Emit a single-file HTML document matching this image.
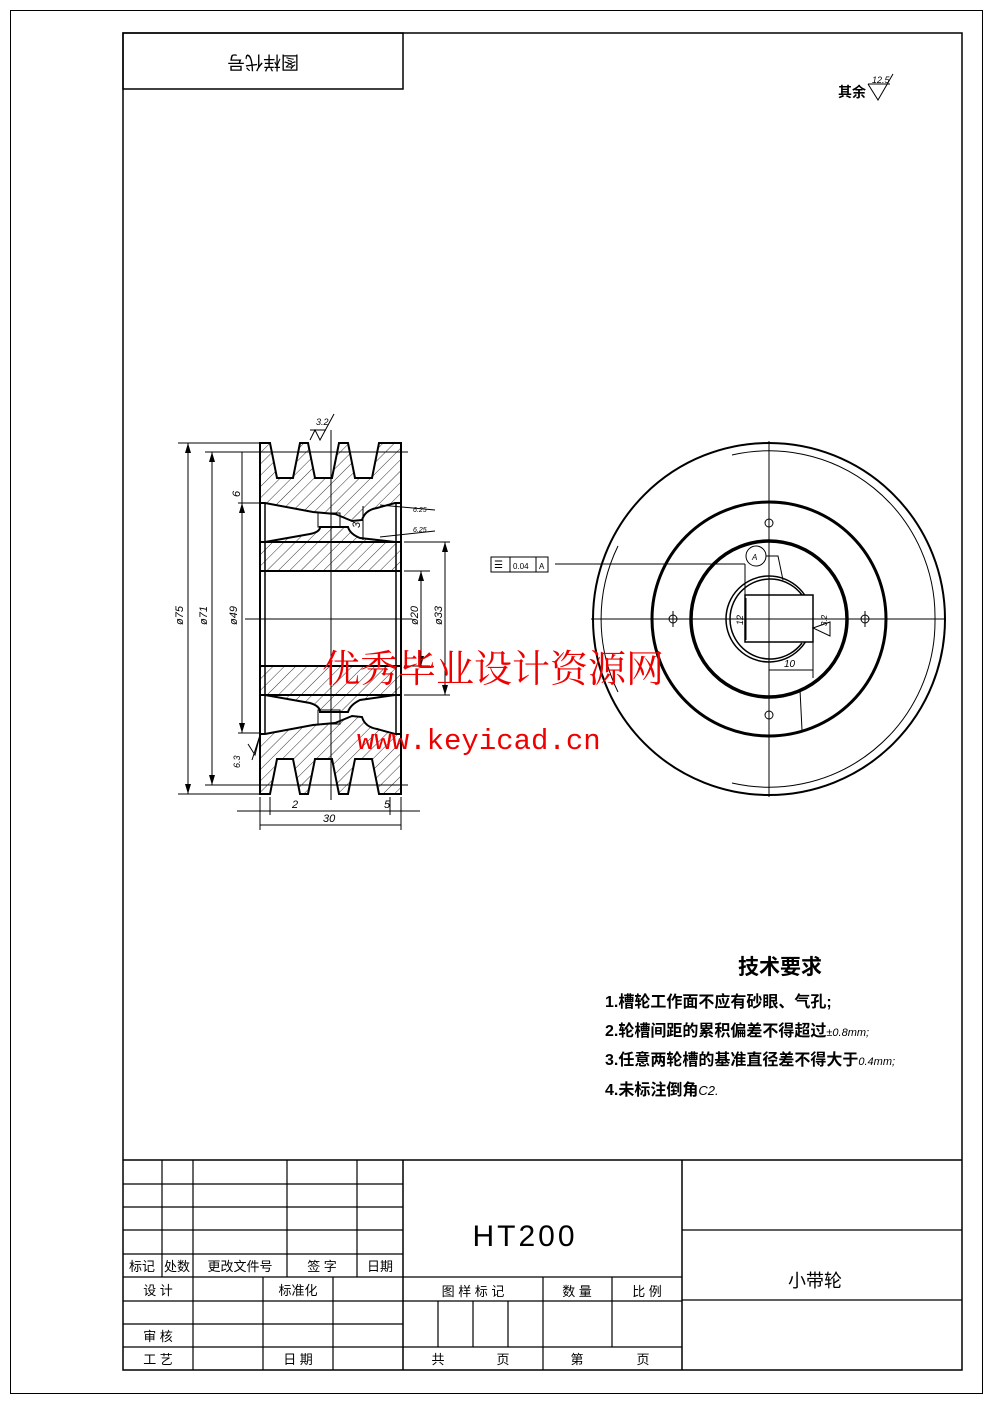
<!DOCTYPE html>
<html><head><meta charset="utf-8"><style>
html,body{margin:0;padding:0;background:#fff}
svg{display:block}
text{font-family:"Liberation Sans","Noto Sans CJK SC",sans-serif;fill:#000}
</style></head><body>
<svg width="992" height="1403" viewBox="0 0 992 1403" xmlns="http://www.w3.org/2000/svg">
<defs>
<pattern id="h" patternUnits="userSpaceOnUse" width="8" height="8" patternTransform="rotate(45)">
<line x1="0" y1="0" x2="0" y2="8" stroke="#000" stroke-width="0.8"/></pattern>
</defs>
<rect x="10.5" y="10.5" width="972" height="1383" fill="none" stroke="#000"/>
<rect x="123" y="33" width="839" height="1337" fill="none" stroke="#000" stroke-width="1.5"/>
<rect x="123" y="33" width="280" height="56" fill="none" stroke="#000" stroke-width="1.5"/>
<text x="263" y="70" font-size="18" text-anchor="middle" transform="rotate(180 263 63)">图样代号</text>
<text x="838" y="97" font-size="14" font-weight="bold">其余</text>
<path d="M868 84 L878 100 L893 74" fill="none" stroke="#000"/><line x1="868" y1="84" x2="890" y2="84" stroke="#000"/>
<text x="872" y="83" font-size="9" font-style="italic">12.5</text>

<!-- left view -->
<g stroke="#000" fill="none">
<path d="M260 443 L270 443 L277 478 L293 478 L300 443 L308 443 L315 478 L332 478 L339 443 L348 443 L355 478 L372 478 L379 443 L390 443 L401 443 L401 503 L395 503 L377 508 Q365 510 362 520 L352 521 Q340 516 335 514 L313 512 L265 503 L260 503 Z" fill="url(#h)" stroke-width="2"/>
<path d="M260 542 L401 542 L401 571 L260 571 Z" fill="url(#h)" stroke-width="2"/>
<path d="M265 542 L310 534 Q320 532 320 527 L348 527 Q350 534 360 538 L395 542" fill="url(#h)" stroke-width="2"/>
<path d="M260 666 L401 666 L401 695 L260 695 Z" fill="url(#h)" stroke-width="2"/>
<path d="M265 695 L310 703 Q320 706 320 712 L348 712 Q350 705 360 700 L395 695" fill="url(#h)" stroke-width="2"/>
<path d="M260 794 L270 794 L277 759 L293 759 L300 794 L308 794 L315 759 L332 759 L339 794 L348 794 L355 759 L372 759 L379 794 L390 794 L401 794 L401 734 L395 734 L377 729 Q365 727 362 717 L352 716 Q340 721 335 723 L313 725 L265 734 L260 734 Z" fill="url(#h)" stroke-width="2"/>
<line x1="260" y1="443" x2="260" y2="794" stroke-width="2"/>
<line x1="401" y1="443" x2="401" y2="794" stroke-width="2"/>
<line x1="265" y1="503" x2="265" y2="734" stroke-width="1.5"/>
<line x1="396" y1="503" x2="396" y2="734" stroke-width="1.5"/>
<rect x="318" y="513" width="22" height="14"/><rect x="318" y="710" width="22" height="14"/>
<line x1="245" y1="619" x2="412" y2="619"/>
<line x1="331" y1="430" x2="331" y2="800"/>
<line x1="178" y1="443" x2="260" y2="443"/><line x1="178" y1="794" x2="260" y2="794"/>
<line x1="205" y1="452" x2="408" y2="452"/><line x1="205" y1="785" x2="408" y2="785"/>
<line x1="188" y1="443" x2="188" y2="794"/><line x1="212" y1="452" x2="212" y2="785"/>
<line x1="242" y1="452" x2="242" y2="733"/><line x1="238" y1="503" x2="260" y2="503"/><line x1="238" y1="733" x2="260" y2="733"/>
<line x1="404" y1="571" x2="430" y2="571"/><line x1="404" y1="666" x2="430" y2="666"/>
<line x1="404" y1="542" x2="450" y2="542"/><line x1="404" y1="695" x2="450" y2="695"/>
<line x1="421" y1="571" x2="421" y2="666"/><line x1="445" y1="542" x2="445" y2="695"/>
<line x1="363" y1="506" x2="363" y2="540"/>
<line x1="380" y1="505" x2="435" y2="510"/><line x1="380" y1="537" x2="435" y2="531"/>
<line x1="260" y1="797" x2="260" y2="830"/><line x1="401" y1="797" x2="401" y2="830"/><line x1="270" y1="797" x2="270" y2="815"/><line x1="390" y1="797" x2="390" y2="815"/>
<line x1="237" y1="811" x2="420" y2="811"/><line x1="260" y1="825" x2="401" y2="825"/>
<path d="M310 440 L315 430 L320 440 L334 414" /><line x1="310" y1="430" x2="326" y2="430"/>
<path d="M248 744 L255 755 L260 735 L252 760"/>
</g>
<g fill="#000">
<path d="M188 443 l-3 10 h6z"/><path d="M188 794 l-3 -10 h6z"/>
<path d="M212 452 l-3 10 h6z"/><path d="M212 785 l-3 -10 h6z"/>
<path d="M242 503 l-3 10 h6z"/><path d="M242 733 l-3 -10 h6z"/>
<path d="M421 571 l-3 10 h6z"/><path d="M421 666 l-3 -10 h6z"/>
<path d="M445 542 l-3 10 h6z"/><path d="M445 695 l-3 -10 h6z"/>
</g>
<g font-size="11" font-style="italic">
<text transform="translate(183 625) rotate(-90)">ø75</text>
<text transform="translate(207 625) rotate(-90)">ø71</text>
<text transform="translate(237 625) rotate(-90)">ø49</text>
<text transform="translate(240 497) rotate(-90)">6</text>
<text transform="translate(418 625) rotate(-90)">ø20</text>
<text transform="translate(442 625) rotate(-90)">ø33</text>
<text transform="translate(360 528) rotate(-90)">3</text>
<text x="292" y="808">2</text><text x="384" y="808">5</text><text x="323" y="822">30</text>
<text x="316" y="425" font-size="9">3.2</text>
<text transform="translate(240 768) rotate(-90)" font-size="9">6.3</text>
<text x="413" y="512" font-size="7">6.25</text><text x="413" y="532" font-size="7">6.25</text>
</g>

<!-- right view -->
<g stroke="#000" fill="none">
<circle cx="769" cy="619" r="176" stroke-width="2"/>
<path d="M732 455 A166 166 0 0 1 935 619 A166 166 0 0 1 732 783"/>
<path d="M618 546 A166 166 0 0 0 618 692"/>
<circle cx="769" cy="619" r="117" stroke-width="3"/>
<circle cx="769" cy="619" r="78" stroke-width="3.5"/>
<circle cx="769" cy="619" r="43" stroke-width="1.5"/>
<path d="M802 595 A40 40 0 1 0 802 643" stroke-width="1.5"/>
<rect x="745" y="595" width="68" height="47" stroke-width="1.5" fill="#fff"/>
<line x1="591" y1="619" x2="946" y2="619"/>
<line x1="769" y1="441" x2="769" y2="797"/>
<circle cx="769" cy="523" r="4"/><circle cx="769" cy="715" r="4"/><circle cx="673" cy="619" r="4"/><circle cx="865" cy="619" r="4"/>
<line x1="673" y1="611" x2="673" y2="627"/><line x1="865" y1="611" x2="865" y2="627"/>
<line x1="555" y1="564" x2="745" y2="564"/><line x1="745" y1="564" x2="745" y2="595"/>
<rect x="491" y="557" width="57" height="15"/><line x1="510" y1="557" x2="510" y2="572"/><line x1="536" y1="557" x2="536" y2="572"/>
<circle cx="756" cy="556" r="10"/><path d="M766 556 L778 556 L783 580"/>
<line x1="746" y1="598" x2="746" y2="640"/>
<line x1="813" y1="642" x2="813" y2="678"/><line x1="769" y1="670" x2="813" y2="670"/>
<line x1="800" y1="690" x2="802" y2="730"/>
<path d="M813 628 L830 622 L830 636 Z"/>
</g>
<text x="752" y="560" font-size="8" font-style="italic">A</text>
<text x="513" y="569" font-size="8">0.04</text><text x="539" y="569" font-size="8">A</text>
<text x="494" y="568" font-size="10">☰</text>
<text x="784" y="667" font-size="10" font-style="italic">10</text>
<text transform="translate(743 625) rotate(-90)" font-size="9" font-style="italic">12</text>
<text transform="translate(827 626) rotate(-90)" font-size="8" font-style="italic">3.2</text>

<!-- watermark -->
<text x="322" y="682" font-size="38" style="fill:#e00;font-family:'Liberation Serif','Noto Serif CJK SC',serif">优秀毕业设计资源网</text>
<text x="357" y="749" font-size="29" style="fill:#e00;font-family:'Liberation Mono',monospace">www.keyicad.cn</text>

<!-- tech req -->
<text x="738" y="974" font-size="21" font-weight="bold">技术要求</text>
<g font-size="16" font-weight="bold">
<text x="605" y="1007">1.槽轮工作面不应有砂眼、气孔;</text>
<text x="605" y="1036">2.轮槽间距的累积偏差不得超过<tspan font-size="11" font-weight="normal" font-style="italic">±0.8mm;</tspan></text>
<text x="605" y="1065">3.任意两轮槽的基准直径差不得大于<tspan font-size="11" font-weight="normal" font-style="italic">0.4mm;</tspan></text>
<text x="605" y="1095">4.未标注倒角<tspan font-size="13" font-weight="normal" font-style="italic">C2.</tspan></text>
</g>

<!-- title block -->
<g stroke="#000" stroke-width="1.2" fill="none">
<line x1="123" y1="1160" x2="962" y2="1160" stroke-width="1.5"/>
<line x1="123" y1="1184" x2="403" y2="1184"/><line x1="123" y1="1207" x2="403" y2="1207"/><line x1="123" y1="1230" x2="403" y2="1230"/><line x1="123" y1="1254" x2="403" y2="1254"/>
<line x1="123" y1="1277" x2="682" y2="1277"/><line x1="123" y1="1301" x2="403" y2="1301"/><line x1="403" y1="1301" x2="682" y2="1301"/><line x1="123" y1="1324" x2="403" y2="1324"/><line x1="123" y1="1347" x2="682" y2="1347"/>
<line x1="162" y1="1160" x2="162" y2="1277"/><line x1="193" y1="1160" x2="193" y2="1370"/><line x1="287" y1="1160" x2="287" y2="1277"/><line x1="357" y1="1160" x2="357" y2="1277"/>
<line x1="403" y1="1160" x2="403" y2="1370" stroke-width="1.5"/>
<line x1="263" y1="1277" x2="263" y2="1370"/><line x1="333" y1="1277" x2="333" y2="1370"/>
<line x1="543" y1="1277" x2="543" y2="1370"/><line x1="612" y1="1277" x2="612" y2="1347"/>
<line x1="438" y1="1301" x2="438" y2="1347"/><line x1="473" y1="1301" x2="473" y2="1347"/><line x1="508" y1="1301" x2="508" y2="1347"/>
<line x1="682" y1="1160" x2="682" y2="1370" stroke-width="1.5"/>
<line x1="682" y1="1230" x2="962" y2="1230"/><line x1="682" y1="1300" x2="962" y2="1300"/>
</g>
<g font-size="13" text-anchor="middle">
<text x="142" y="1271">标记</text><text x="177" y="1271">处数</text><text x="240" y="1271">更改文件号</text><text x="322" y="1271">签 字</text><text x="380" y="1271">日期</text>
<text x="158" y="1295">设 计</text><text x="298" y="1295">标准化</text>
<text x="158" y="1341">审 核</text><text x="158" y="1364">工 艺</text><text x="298" y="1364">日 期</text>
<text x="473" y="1296">图 样 标 记</text><text x="577" y="1296">数 量</text><text x="647" y="1296">比 例</text>
<text x="438" y="1364">共</text><text x="503" y="1364">页</text><text x="577" y="1364">第</text><text x="643" y="1364">页</text>
<text x="815" y="1287" font-size="18">小带轮</text>
</g>
<text x="525" y="1246" font-size="30" text-anchor="middle" style="letter-spacing:3px">HT200</text>
</svg>
</body></html>
